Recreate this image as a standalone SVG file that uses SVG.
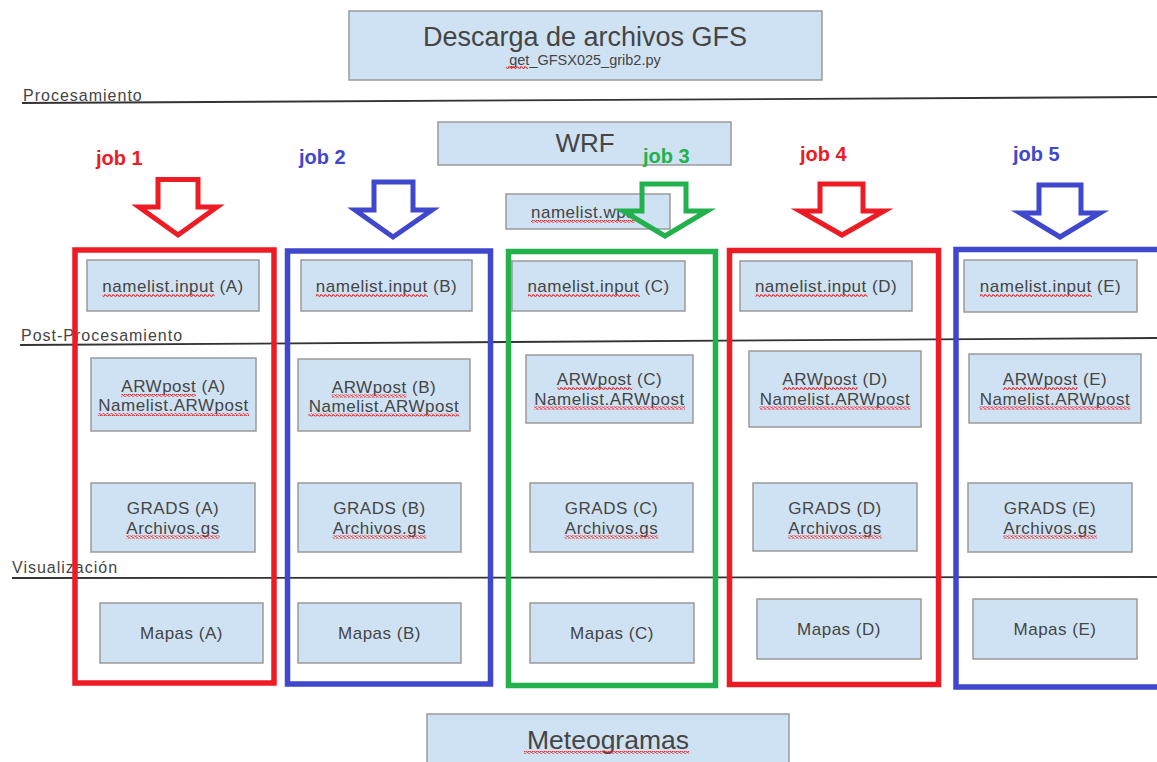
<svg xmlns="http://www.w3.org/2000/svg" width="1157" height="762" viewBox="0 0 1157 762">
  <style>
    .box { fill: #cfe2f3; stroke: #9a9a9a; stroke-width: 1.5; }
    .t { font-family: "Liberation Sans", Arial, sans-serif; fill: #454545; text-anchor: middle; }
    .bt { font-size: 17px; letter-spacing: 0.5px; }
    .lbl { font-family: "Liberation Sans", Arial, sans-serif; fill: #454545; font-size: 16px; letter-spacing: 1px; }
    .sep { stroke: #333; stroke-width: 1.8; fill: none; }
    .job { font-family: "Liberation Sans", Arial, sans-serif; font-weight: bold; font-size: 20px; }
    .frame { fill: none; stroke-width: 5.5; }
    .arrow { fill: none; stroke-width: 5; stroke-linejoin: miter; stroke-miterlimit: 4; }
    .red { stroke: #ed1c24; }
    .blue { stroke: #3f48cc; }
    .green { stroke: #22b14c; }
    .sq { fill: url(#squiggle); }
  </style>
  <defs>
    <!-- spell-check style wavy underline -->
    <pattern id="squiggle" width="4" height="3" patternUnits="userSpaceOnUse">
      <path d="M0 2.4 Q1 -0.2 2 1.2 T4 2.4" fill="none" stroke="#e8262a" stroke-width="1.1"/>
    </pattern>
  </defs>

  <rect width="1157" height="762" fill="#ffffff"/>

  <!-- section separators -->
  <g id="sections">
    <path class="sep" d="M22 103 L1157 97"/>
    <text class="lbl" x="23" y="101">Procesamiento</text>
    <path class="sep" d="M20 345 L1157 338"/>
    <text class="lbl" x="21" y="341">Post-Procesamiento</text>
    <path class="sep" d="M12 578 L1157 577"/>
    <text class="lbl" x="12" y="573">Visualización</text>
  </g>

  <g id="descarga">
    <rect class="box" x="349" y="11" width="473" height="69"/>
    <text class="t" x="585" y="46" font-size="27">Descarga de archivos GFS</text>
    <text class="t" x="585" y="65" font-size="14.5">get_GFSX025_grib2.py</text>
    <rect class="sq" x="506" y="66" width="22" height="3"/>
  </g>

  <g id="wrf">
    <rect class="box" x="438" y="122" width="293" height="43"/>
    <text class="t" x="585" y="152" font-size="26">WRF</text>
  </g>

  <g id="namelist-wps">
    <rect class="box" x="506" y="194" width="164" height="35"/>
    <text class="t bt" x="531" y="218" style="text-anchor:start">namelist.wps</text>
    <rect class="sq" x="531" y="220" width="104" height="3"/>
  </g>

  <!-- job 1 column -->
  <g id="namelist-a">
    <rect class="box" x="87" y="260" width="172" height="51"/>
    <text class="t bt" x="173" y="292">namelist.input (A)</text>
    <rect class="sq" x="102.5" y="294" width="112" height="3"/>
  </g>
  <g id="arwpost-a">
    <rect class="box" x="91" y="358" width="165" height="73"/>
    <text class="t bt" x="173.5" y="392">ARWpost (A)</text>
    <text class="t bt" x="173.5" y="411">Namelist.ARWpost</text>
    <rect class="sq" x="121" y="394" width="75" height="3"/>
    <rect class="sq" x="98" y="413" width="151" height="3"/>
  </g>
  <g id="grads-a">
    <rect class="box" x="91" y="483" width="164" height="69"/>
    <text class="t bt" x="173" y="514">GRADS (A)</text>
    <text class="t bt" x="173" y="533.5">Archivos.gs</text>
    <rect class="sq" x="126.3" y="535.5" width="93.4" height="3"/>
  </g>
  <g id="mapas-a">
    <rect class="box" x="100" y="603" width="163" height="60"/>
    <text class="t bt" x="181.5" y="639">Mapas (A)</text>
  </g>

  <!-- job 2 column -->
  <g id="namelist-b">
    <rect class="box" x="301" y="260" width="171" height="51"/>
    <text class="t bt" x="386.5" y="292">namelist.input (B)</text>
    <rect class="sq" x="316" y="294" width="112" height="3"/>
  </g>
  <g id="arwpost-b">
    <rect class="box" x="298" y="359" width="172" height="72"/>
    <text class="t bt" x="384" y="392.5">ARWpost (B)</text>
    <text class="t bt" x="384" y="411.5">Namelist.ARWpost</text>
    <rect class="sq" x="331.6" y="394.5" width="75" height="3"/>
    <rect class="sq" x="308.5" y="413.5" width="151" height="3"/>
  </g>
  <g id="grads-b">
    <rect class="box" x="298" y="483" width="163" height="69"/>
    <text class="t bt" x="379.5" y="514">GRADS (B)</text>
    <text class="t bt" x="379.5" y="533.5">Archivos.gs</text>
    <rect class="sq" x="332.8" y="535.5" width="93.4" height="3"/>
  </g>
  <g id="mapas-b">
    <rect class="box" x="298" y="603" width="163" height="60"/>
    <text class="t bt" x="379.5" y="639">Mapas (B)</text>
  </g>

  <!-- job 3 column -->
  <g id="namelist-c">
    <rect class="box" x="512" y="261" width="173" height="50"/>
    <text class="t bt" x="598.5" y="292">namelist.input (C)</text>
    <rect class="sq" x="528" y="294" width="112" height="3"/>
  </g>
  <g id="arwpost-c">
    <rect class="box" x="526" y="355" width="167" height="68"/>
    <text class="t bt" x="609.5" y="385">ARWpost (C)</text>
    <text class="t bt" x="609.5" y="404.5">Namelist.ARWpost</text>
    <rect class="sq" x="557.2" y="387" width="75" height="3"/>
    <rect class="sq" x="534" y="406.5" width="151" height="3"/>
  </g>
  <g id="grads-c">
    <rect class="box" x="530" y="483" width="163" height="69"/>
    <text class="t bt" x="611.5" y="514">GRADS (C)</text>
    <text class="t bt" x="611.5" y="533.5">Archivos.gs</text>
    <rect class="sq" x="564.8" y="535.5" width="93.4" height="3"/>
  </g>
  <g id="mapas-c">
    <rect class="box" x="530" y="603" width="164" height="60"/>
    <text class="t bt" x="612" y="639">Mapas (C)</text>
  </g>

  <!-- job 4 column -->
  <g id="namelist-d">
    <rect class="box" x="740" y="261" width="172" height="50"/>
    <text class="t bt" x="826" y="292">namelist.input (D)</text>
    <rect class="sq" x="755.5" y="294" width="112" height="3"/>
  </g>
  <g id="arwpost-d">
    <rect class="box" x="749" y="351" width="172" height="76"/>
    <text class="t bt" x="835" y="385">ARWpost (D)</text>
    <text class="t bt" x="835" y="404.5">Namelist.ARWpost</text>
    <rect class="sq" x="782.7" y="387" width="75" height="3"/>
    <rect class="sq" x="759.5" y="406.5" width="151" height="3"/>
  </g>
  <g id="grads-d">
    <rect class="box" x="753" y="483" width="164" height="68"/>
    <text class="t bt" x="835" y="514">GRADS (D)</text>
    <text class="t bt" x="835" y="533.5">Archivos.gs</text>
    <rect class="sq" x="788.3" y="535.5" width="93.4" height="3"/>
  </g>
  <g id="mapas-d">
    <rect class="box" x="757" y="599" width="164" height="60"/>
    <text class="t bt" x="839" y="635">Mapas (D)</text>
  </g>

  <!-- job 5 column -->
  <g id="namelist-e">
    <rect class="box" x="964" y="260" width="173" height="52"/>
    <text class="t bt" x="1050.5" y="292">namelist.input (E)</text>
    <rect class="sq" x="980" y="294" width="112" height="3"/>
  </g>
  <g id="arwpost-e">
    <rect class="box" x="969" y="354" width="172" height="69"/>
    <text class="t bt" x="1055" y="385">ARWpost (E)</text>
    <text class="t bt" x="1055" y="404.5">Namelist.ARWpost</text>
    <rect class="sq" x="1002.7" y="387" width="75" height="3"/>
    <rect class="sq" x="979.5" y="406.5" width="151" height="3"/>
  </g>
  <g id="grads-e">
    <rect class="box" x="968" y="483" width="164" height="69"/>
    <text class="t bt" x="1050" y="514">GRADS (E)</text>
    <text class="t bt" x="1050" y="533.5">Archivos.gs</text>
    <rect class="sq" x="1003.3" y="535.5" width="93.4" height="3"/>
  </g>
  <g id="mapas-e">
    <rect class="box" x="973" y="599" width="164" height="60"/>
    <text class="t bt" x="1055" y="635">Mapas (E)</text>
  </g>

  <g id="meteogramas">
    <rect class="box" x="427" y="714" width="362" height="60"/>
    <text class="t" x="608" y="749" font-size="26.5">Meteogramas</text>
    <rect class="sq" x="524" y="751" width="165" height="3"/>
  </g>

  <!-- job frames, block arrows and labels -->
  <g id="connectors">
    <rect class="frame red" x="75" y="250" width="199" height="433"/>
    <rect class="frame blue" x="287.5" y="251" width="203" height="433"/>
    <rect class="frame green" x="508.5" y="251.5" width="207" height="434"/>
    <rect class="frame red" x="729.5" y="250.5" width="209" height="434"/>
    <rect class="frame blue" x="956" y="249.5" width="210" height="437.5"/>

    <path class="arrow red" d="M158 179.5 H198 V207 H217 L178 235 L139 207 H158 Z"/>
    <path class="arrow blue" d="M374 182 H413 V210 H432 L393 237 L355 210 H374 Z"/>
    <path class="arrow green" d="M642 184 H686 V211 H707 L665 236 L623 211 H642 Z"/>
    <path class="arrow red" d="M820 184 H863 V211 H884 L842 235 L800 211 H820 Z"/>
    <path class="arrow blue" d="M1039 185 H1081 V213 H1100 L1060 237 L1020 213 H1039 Z"/>
  </g>

  <g id="job-labels">
    <text class="job" x="96" y="165" fill="#ed1c24">job 1</text>
    <text class="job" x="299" y="164" fill="#3f48cc">job 2</text>
    <text class="job" x="643" y="163" fill="#22b14c">job 3</text>
    <text class="job" x="800" y="161" fill="#ed1c24">job 4</text>
    <text class="job" x="1013" y="161" fill="#3f48cc">job 5</text>
  </g>
</svg>
